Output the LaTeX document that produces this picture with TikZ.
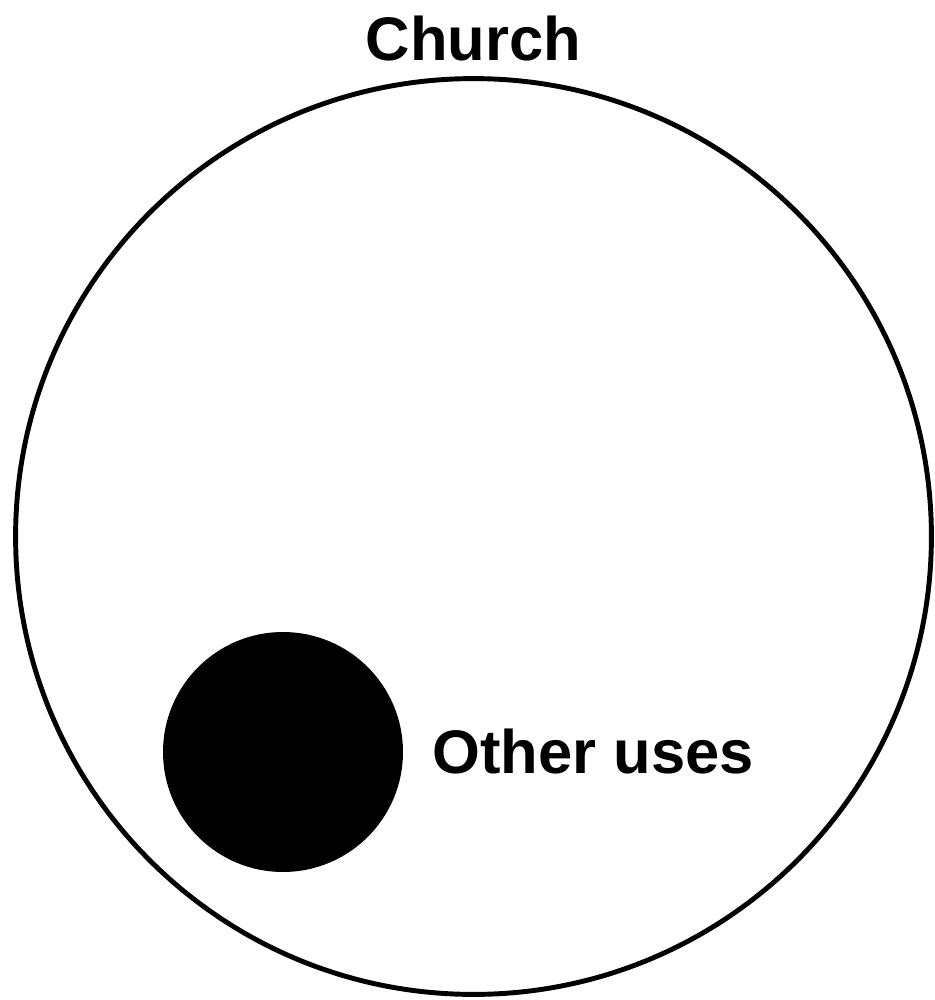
\documentclass[tikz,border=0pt]{standalone}
\usepackage{fontspec}
\setmainfont{Liberation Sans}
\usepackage{tikz}
\usetikzlibrary{positioning}

\begin{document}
\begin{tikzpicture}[
  x=0.02cm, y=-0.02cm,
  ring/.style={circle, draw, line width=2.8pt, minimum size=18.32cm, inner sep=0pt},
  dot/.style={circle, fill=black, minimum size=4.8cm, inner sep=0pt},
  lbl/.style={inner sep=0pt, font=\bfseries\fontsize{35}{42}\selectfont}
]
  \useasboundingbox (0,0) rectangle (934,1000);
  \node[ring] (church) at (473.5,536.5) {};
  \node[dot] (other) at (283,752) {};
  \node[lbl, above=0.3cm of church] (churchlbl) {Church};
  \node[lbl, right=0.58cm of other] (otherlbl) {Other uses};
\end{tikzpicture}
\end{document}
